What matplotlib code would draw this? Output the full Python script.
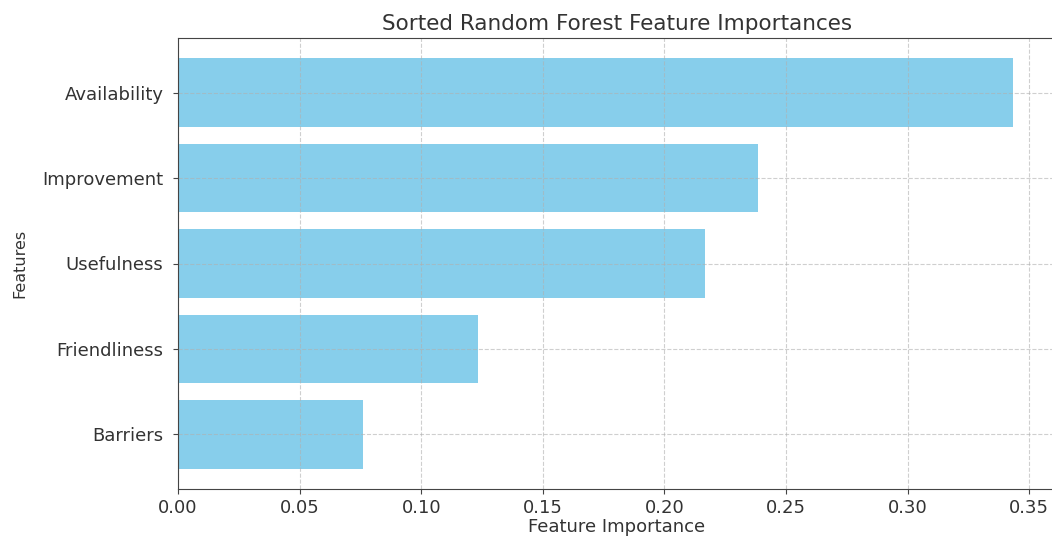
import matplotlib
matplotlib.use("Agg")
import matplotlib.pyplot as plt

features = ["Barriers", "Friendliness", "Usefulness", "Improvement", "Availability"]
importances = [0.0761, 0.1234, 0.2167, 0.2385, 0.3434]

plt.rcParams["text.color"] = "#333333"
plt.rcParams["axes.labelcolor"] = "#333333"
plt.rcParams["xtick.labelcolor"] = "#333333"
plt.rcParams["ytick.labelcolor"] = "#333333"
plt.rcParams["axes.edgecolor"] = "#444444"

fig = plt.figure(figsize=(10.52, 5.36), dpi=100)
ax = fig.add_axes([178 / 1052, 1 - 489 / 536, (1056 - 178) / 1052, (489 - 38) / 536])

ax.barh(features, importances, color="skyblue", height=0.8)
ax.set_xlim(0, 0.361)
ax.set_xticks([0.0, 0.05, 0.10, 0.15, 0.20, 0.25, 0.30, 0.35])
ax.set_xticklabels(["0.00", "0.05", "0.10", "0.15", "0.20", "0.25", "0.30", "0.35"])
ax.grid(True, linestyle="--", alpha=0.6)

ax.tick_params(labelsize=13, color="#444444")
ax.tick_params(axis="y", pad=7)
ax.set_xlabel("Feature Importance", fontsize=13, labelpad=1)
ax.set_ylabel("Features", fontsize=11.5)
ax.yaxis.set_label_coords(-0.172, 0.5)
ax.set_title("Sorted Random Forest Feature Importances", fontsize=15.5, pad=6)

fig.savefig("out.png", dpi=100)
